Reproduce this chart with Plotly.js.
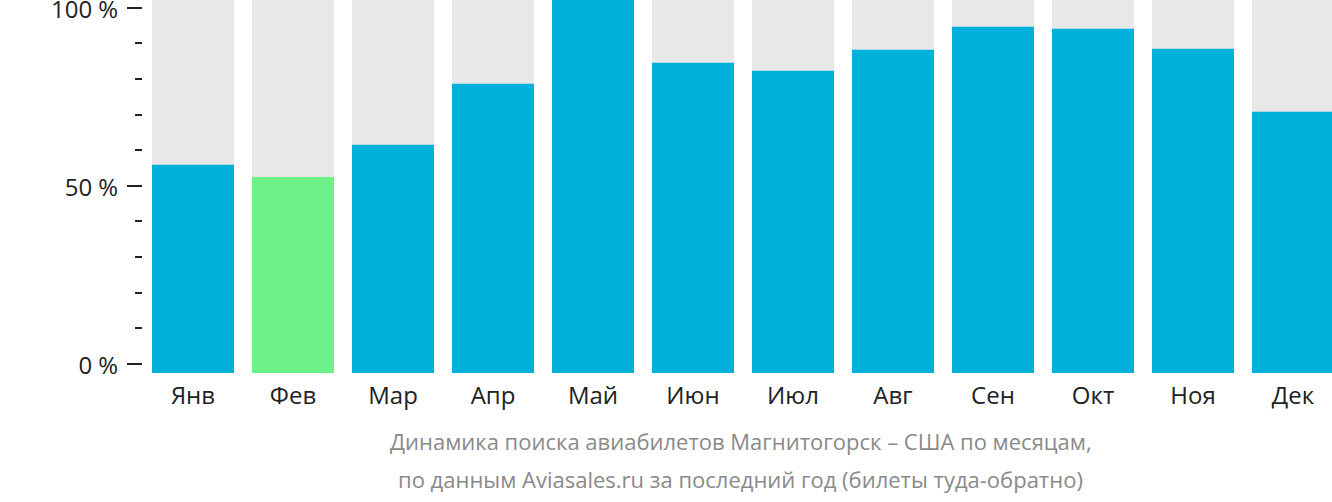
<!DOCTYPE html>
<html>
<head>
<meta charset="utf-8">
<script src="https://cdn.plot.ly/plotly-3.0.1.min.js"></script>
<style>html,body{margin:0;padding:0;background:#fff;}#chart{width:1332px;height:502px;}</style>
</head>
<body>
<div id="chart"></div>
<script>
const months = ["Янв","Фев","Мар","Апр","Май","Июн","Июл","Авг","Сен","Окт","Ноя","Дек"];
const values = [55.9, 52.5, 61.5, 78.7, 102.2, 84.6, 82.3, 88.2, 94.7, 94.1, 88.5, 70.8];
const lowMonth = "Фев";
const yTickVals = [0, 50, 100];
const yTickText = ["0 %", "50 %", "100 %"];
const captionLines = ["Динамика поиска авиабилетов Магнитогорск – США по месяцам,", "по данным Aviasales.ru за последний год (билеты туда-обратно)"];

const BASE = -2.6, TOP = 102.2;
const colors = months.map(m => m === lowMonth ? "#6cf288" : "#00b1dc");

const bgTrace = {
  type: "bar", x: months, y: months.map(() => TOP - BASE + 10), base: months.map(() => BASE),
  marker: {color: "#e8e8e8"}, width: 0.82, hoverinfo: "skip", showlegend: false
};
const valTrace = {
  type: "bar", x: months, y: values.map(v => v - BASE), base: months.map(() => BASE),
  marker: {color: colors}, width: 0.82, showlegend: false,
  customdata: values, hovertemplate: "%{x}: %{customdata:.0f} %<extra></extra>"
};

const layout = {
  width: 1332, height: 502,
  margin: {l: 143, r: 0, t: 0, b: 129},
  barmode: "overlay",
  paper_bgcolor: "#fff", plot_bgcolor: "#fff",
  font: {family: "Open Sans, Noto Sans, sans-serif", color: "#222"},
  xaxis: {
    type: "category", range: [-0.5, 11.39], showgrid: false, zeroline: false, showline: false,
    ticks: "", tickfont: {size: 24, color: "#222"}, ticklabelstandoff: 6
  },
  yaxis: {
    range: [BASE, TOP], showgrid: false, zeroline: false, showline: false,
    tickmode: "array", tickvals: yTickVals, ticktext: yTickText,
    ticks: "outside", ticklen: 15, tickwidth: 2, tickcolor: "#222",
    tickfont: {size: 24, color: "#222"}, ticklabelstandoff: 4, ticklabelshift: 2, ticklabeloverflow: "allow",
    minor: {tickmode: "linear", tick0: 0, dtick: 10, ticks: "outside", ticklen: 7, tickwidth: 2, tickcolor: "#222", showgrid: false}
  },
  annotations: captionLines.map((t, i) => ({
    text: t, xref: "paper", yref: "paper", x: (741 - 143) / 1189, y: 0,
    yshift: -(441 + i * 38 - 373), xanchor: "center", yanchor: "middle",
    showarrow: false, font: {size: 22, color: "#8a8a8a", family: "Open Sans, Noto Sans, sans-serif"}
  }))
};

Plotly.newPlot("chart", [bgTrace, valTrace], layout, {displayModeBar: false, staticPlot: true});
</script>
</body>
</html>
